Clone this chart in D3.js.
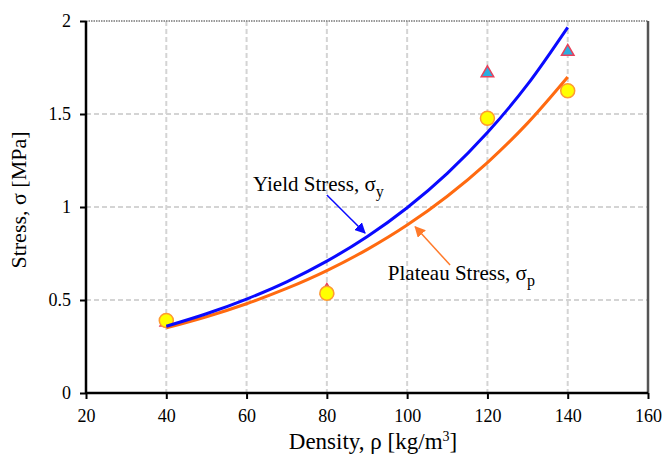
<!DOCTYPE html>
<html>
<head>
<meta charset="utf-8">
<script src="https://cdn.jsdelivr.net/npm/d3@7"></script>
<style>
  html, body { margin: 0; padding: 0; background: #fff; }
  svg { display: block; }
</style>
</head>
<body>
<svg id="chart" width="665" height="465"></svg>
<script>
// Measured foam densities [kg/m^3]
const densities = [40, 80, 120, 140];
// Measured yield stress (triangles) and plateau stress (circles) [MPa]
const yieldMeasured = [0.38, 0.55, 1.72, 1.835];
const plateauMeasured = [0.39, 0.536, 1.477, 1.625];

// Fitted trend curves, sampled along the density range
const fitDensity = [40, 50, 60, 70, 80, 90, 100, 110, 120, 130, 140];
const yieldFit   = [0.359, 0.426, 0.505, 0.598, 0.709, 0.840, 0.996, 1.181, 1.400, 1.659, 1.966];
const plateauFit = [0.350, 0.410, 0.480, 0.562, 0.658, 0.771, 0.903, 1.058, 1.239, 1.451, 1.699];

// Axis ticks
const xTicks = [20, 40, 60, 80, 100, 120, 140, 160];
const yTicks = [0, 0.5, 1, 1.5, 2];
const yTickLabels = ["0", "0.5", "1", "1.5", "2"];

const SERIF = "Liberation Serif";
const svg = d3.select("#chart");
const plotL = 86, plotR = 648, plotT = 21, plotB = 393;

const x = d3.scaleLinear().domain([20, 160]).range([plotL, plotR]);
const y = d3.scaleLinear().domain([0, 2]).range([plotB, plotT]);

// Grid
const grid = svg.append("g").attr("stroke", "#d4d4d4").attr("stroke-width", 2)
  .attr("stroke-dasharray", "5,3").attr("fill", "none");
grid.selectAll("line.v").data(xTicks.slice(1, -1)).join("line").attr("class", "v")
  .attr("x1", d => x(d)).attr("x2", d => x(d)).attr("y1", plotT).attr("y2", plotB);
grid.selectAll("line.h").data(yTicks.slice(1, -1)).join("line").attr("class", "h")
  .attr("y1", d => y(d)).attr("y2", d => y(d)).attr("x1", plotL).attr("x2", plotR);

// Frame: top dotted, right grey
svg.append("line").attr("x1", plotL).attr("x2", plotR).attr("y1", plotT).attr("y2", plotT)
  .attr("stroke", "#777").attr("stroke-width", 1.5).attr("stroke-dasharray", "1.5,1");
svg.append("line").attr("x1", plotR).attr("x2", plotR).attr("y1", plotT).attr("y2", plotB)
  .attr("stroke", "#555").attr("stroke-width", 2.5);

// Axes
const xAxis = svg.append("g").attr("transform", `translate(0,${plotB})`)
  .call(d3.axisBottom(x).tickValues(xTicks).tickSize(6).tickPadding(10).tickFormat(d3.format("d")));
const yAxis = svg.append("g").attr("transform", `translate(${plotL},0)`)
  .call(d3.axisLeft(y).tickValues(yTicks).tickSize(6).tickPadding(9)
    .tickFormat((d, i) => yTickLabels[i]));
[xAxis, yAxis].forEach(g => {
  g.attr("font-family", SERIF).attr("font-size", 18);
  g.select(".domain").attr("stroke", "#000").attr("stroke-width", 2.5);
  g.selectAll(".tick line").attr("stroke", "#000").attr("stroke-width", 2);
  g.selectAll(".tick text").attr("fill", "#000");
});
xAxis.select(".domain").attr("d", `M${plotL},0H${plotR}`);
yAxis.select(".domain").attr("d", `M0,${plotT}V${plotB}`);

// Measured points: triangles underneath, circles on top
const tri = d3.symbol().type(d3.symbolTriangle).size(68);
svg.append("g").selectAll("path").data(densities).join("path")
  .attr("d", tri)
  .attr("transform", (d, i) => `translate(${x(d)},${y(yieldMeasured[i])})`)
  .attr("fill", "#2aaee0").attr("stroke", "#e8405a").attr("stroke-width", 1.5);
svg.append("g").selectAll("circle").data(densities).join("circle")
  .attr("cx", d => x(d)).attr("cy", (d, i) => y(plateauMeasured[i])).attr("r", 7)
  .attr("fill", "#ffff00").attr("stroke", "#ff9a30").attr("stroke-width", 1.5);

// Trend curves
const line = vals => d3.line().x((d, i) => x(fitDensity[i])).y(d => y(d)).curve(d3.curveMonotoneX)(vals);
svg.append("path").attr("d", line(plateauFit)).attr("fill", "none")
  .attr("stroke", "#ff6a10").attr("stroke-width", 3);
svg.append("path").attr("d", line(yieldFit)).attr("fill", "none")
  .attr("stroke", "#0a0aff").attr("stroke-width", 3);

// Arrow heads
const defs = svg.append("defs");
[["arrowBlue", "#0a0aff"], ["arrowOrange", "#ff7a2a"]].forEach(([id, c]) => {
  defs.append("marker").attr("id", id).attr("viewBox", "0 0 10 10")
    .attr("refX", 9).attr("refY", 5).attr("markerWidth", 11).attr("markerHeight", 11)
    .attr("markerUnits", "userSpaceOnUse").attr("orient", "auto")
    .append("path").attr("d", "M0,0L10,5L0,10Z").attr("fill", c);
});

// Annotations
svg.append("line").attr("x1", x(80.0)).attr("y1", y(1.065)).attr("x2", x(89.5)).attr("y2", y(0.86))
  .attr("stroke", "#0a0aff").attr("stroke-width", 1.5).attr("marker-end", "url(#arrowBlue)");
svg.append("line").attr("x1", x(110.7)).attr("y1", y(0.688)).attr("x2", x(102)).attr("y2", y(0.894))
  .attr("stroke", "#ff7a2a").attr("stroke-width", 1.5).attr("marker-end", "url(#arrowOrange)");

const yLab = svg.append("text").attr("x", x(61.6)).attr("y", y(1.086))
  .attr("font-family", SERIF).attr("font-size", 21);
yLab.append("tspan").text("Yield Stress, σ");
yLab.append("tspan").attr("dy", 6).attr("font-size", 16).text("y");

const pLab = svg.append("text").attr("x", x(95.2)).attr("y", y(0.608))
  .attr("font-family", SERIF).attr("font-size", 21);
pLab.append("tspan").text("Plateau Stress, σ");
pLab.append("tspan").attr("dy", 6).attr("font-size", 16).text("p");

// Axis titles
const xt = svg.append("text").attr("x", 373).attr("y", 449).attr("text-anchor", "middle")
  .attr("font-family", SERIF).attr("font-size", 23);
xt.append("tspan").text("Density, ρ [kg/m");
xt.append("tspan").attr("dy", -8).attr("font-size", 14).text("3");
xt.append("tspan").attr("dy", 8).text("]");

svg.append("text").attr("transform", "translate(26,200) rotate(-90)")
  .attr("text-anchor", "middle").attr("font-family", SERIF).attr("font-size", 22)
  .text("Stress, σ [MPa]");
</script>
</body>
</html>
